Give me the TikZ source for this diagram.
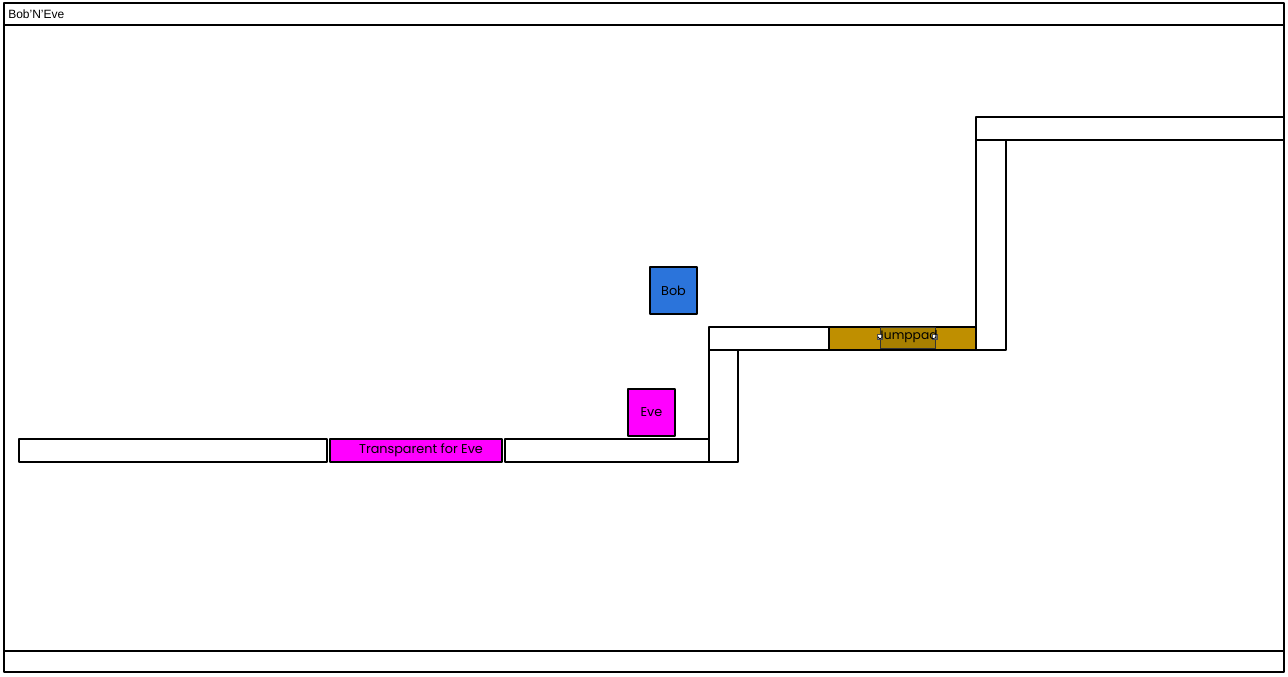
\documentclass[tikz,border=0pt]{standalone}
\usepackage{fontspec}
\setmainfont{Liberation Sans}
\newfontfamily\sketchfont{Poppins}
\definecolor{bobblue}{HTML}{2B74DB}
\definecolor{evemag}{HTML}{FF00FF}
\definecolor{padgold}{HTML}{BF8F00}
\definecolor{padsel}{HTML}{A88000}
\begin{document}
\begin{tikzpicture}[x=0.75pt,y=-0.75pt,
  outline/.style={draw=black,line width=1.7pt,line join=round},
  block/.style={outline,fill=white},
  label/.style={font=\sketchfont\fontsize{9.6}{11}\selectfont,text=black},
  handle/.style={draw=black!70,fill=white,line width=0.4pt,minimum size=3.5pt,inner sep=0pt}]
\useasboundingbox (0,0) rectangle (1288,676);
% window frame, title bar and status bar
\draw[outline,fill=white] (4,3) rectangle (1284,672);
\draw[outline] (4,25) -- (1284,25);
\draw[outline] (4,651) -- (1284,651);
\node[anchor=west,font=\fontsize{9}{10}\selectfont,inner sep=0pt] (title) at (8,14) {Bob'N'Eve};
% lower floor
\draw[block] (19,439) rectangle (327,462) node[midway] (floorA) {};
\draw[outline,fill=evemag] (330,439) rectangle (502,462);
\node[label] (ghost) at (421,450.5) {Transparent for Eve};
\draw[block] (505,439) rectangle (709,462) node[midway] (floorB) {};
% first step
\draw[block] (709,350) rectangle (738,462) node[midway] (wallA) {};
\draw[block] (709,327) rectangle (829,350) node[midway] (ledgeA) {};
\draw[outline,fill=padgold] (829,327) rectangle (976,350);
\draw[draw=black!80,fill=padsel,line width=0.6pt] (880,327) rectangle (935,348);
\node[handle] (padL) at (880,337) {};
\node[handle] (padR) at (935,337) {};
\node[label,font=\sketchfont\fontsize{9.2}{11}\selectfont] (pad) at (907.5,337) {Jumppad};
% second step
\draw[block] (976,140) rectangle (1006,350) node[midway] (wallB) {};
\draw[block] (976,117) rectangle (1284,140) node[midway] (ledgeB) {};
% players
\draw[outline,fill=bobblue] (650,267) rectangle (697,314);
\node[label] (bob) at (673.5,290.5) {Bob};
\draw[outline,fill=evemag] (628,389) rectangle (675,436);
\node[label] (eve) at (651.5,412.5) {Eve};
\end{tikzpicture}
\end{document}
